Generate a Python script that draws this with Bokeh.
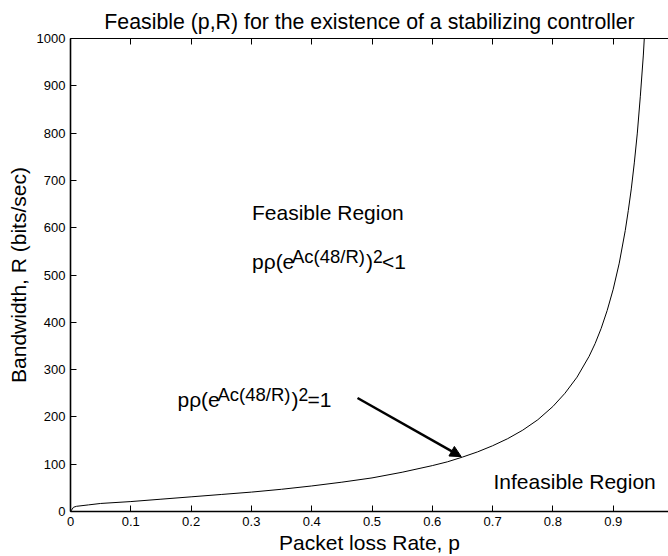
from bokeh.plotting import figure
from bokeh.models import Range1d, LinearAxis, FixedTicker, Label, Arrow, NormalHead
from bokeh.embed import file_html
from bokeh.resources import INLINE

FONT = "Liberation Sans"

# Boundary curve p*rho(e^{Ac(48/R)})^2 = 1 : packet loss rate vs bandwidth
loss_rate = [0.0, 0.005, 0.01, 0.03, 0.05, 0.10, 0.15, 0.20, 0.25, 0.30, 0.35,
             0.40, 0.45, 0.50, 0.55, 0.60, 0.625, 0.65, 0.675, 0.70, 0.725,
             0.75, 0.775, 0.80, 0.82, 0.84, 0.86, 0.87, 0.88, 0.89, 0.90,
             0.91, 0.92, 0.925, 0.93, 0.935, 0.94, 0.945, 0.95, 0.955]
bandwidth = [0, 9, 11, 14, 17, 21, 26, 31, 36, 41, 47,
             54, 62, 71, 83, 97, 105, 115, 126, 139, 154,
             172, 194, 222, 250, 284, 328, 355, 387, 425, 470,
             525, 594, 636, 682, 737, 800, 878, 965, 1078]

x_ticks = [0.0, 0.1, 0.2, 0.3, 0.4, 0.5, 0.6, 0.7, 0.8, 0.9]
x_tick_labels = ["0", "0.1", "0.2", "0.3", "0.4", "0.5", "0.6", "0.7", "0.8", "0.9"]
y_ticks = [0, 100, 200, 300, 400, 500, 600, 700, 800, 900, 1000]
y_tick_labels = [str(v) for v in y_ticks]

p = figure(width=668, height=556,
           x_range=Range1d(0, 0.9917), y_range=Range1d(0, 1000),
           output_backend="svg", toolbar_location=None,
           min_border_left=70, min_border_right=0,
           min_border_top=38, min_border_bottom=43)
p.grid.visible = False
p.outline_line_color = None
p.background_fill_color = "white"
p.border_fill_color = "white"

p.title.text = "Feasible (p,R) for the existence of a stabilizing controller"
p.title.align = "center"
p.title.text_font = FONT
p.title.text_font_size = "21.3px"
p.title.text_font_style = "normal"
p.title.text_color = "black"

def style_axis(ax, ticks, labels, width):
    ax.ticker = FixedTicker(ticks=ticks)
    ax.major_label_overrides = {t: s for t, s in zip(ticks, labels)}
    ax.major_tick_in = 6
    ax.major_tick_out = 0
    ax.minor_tick_line_color = None
    ax.axis_line_width = width
    ax.axis_line_color = "black"
    ax.major_tick_line_color = "black"
    ax.major_label_text_font = FONT
    ax.major_label_text_font_size = "13px"
    ax.major_label_text_color = "black"
    ax.axis_label_text_font = FONT
    ax.axis_label_text_font_size = "21px"
    ax.axis_label_text_font_style = "normal"
    ax.axis_label_text_color = "black"

xa = p.xaxis[0]
style_axis(xa, x_ticks, x_tick_labels, 1.6)
xa.axis_label = "Packet loss Rate, p"
xa.major_label_standoff = 5
xa.axis_label_standoff = 2

ya = p.yaxis[0]
style_axis(ya, y_ticks, y_tick_labels, 1.6)
ya.axis_label = "Bandwidth, R (bits/sec)"
ya.major_label_standoff = 5
ya.axis_label_standoff = 4

top = LinearAxis()
style_axis(top, x_ticks, ["" for _ in x_ticks], 1)
top.major_label_text_font_size = "0px"
top.major_label_standoff = 0
p.add_layout(top, "above")

p.line(loss_rate, bandwidth, line_color="black", line_width=1)

def txt(s, x, y, size="21px", dx=0):
    p.add_layout(Label(x=x, y=y, x_offset=dx, text=s, text_font=FONT,
                       text_font_size=size, text_color="black",
                       text_baseline="alphabetic", text_align="left"))

txt("Feasible Region", 0.301, 632)

# p rho(e^{Ac(48/R)})^2 < 1
f1x, f1y = 0.301, 529
txt("p\u03c1(e", f1x, f1y)
txt("Ac(48/R)", f1x, f1y + 11, size="18.5px", dx=40)
txt(")", f1x, f1y, dx=114)
txt("2", f1x, f1y + 11, size="17.5px", dx=121)
txt("<1", f1x, f1y, dx=130)

# p rho(e^{Ac(48/R)})^2 = 1
f2x, f2y = 0.1774, 236
txt("p\u03c1(e", f2x, f2y)
txt("Ac(48/R)", f2x, f2y + 11, size="18.5px", dx=40)
txt(")", f2x, f2y, dx=114)
txt("2", f2x, f2y + 11, size="17.5px", dx=121)
txt("=1", f2x, f2y, dx=130)

txt("Infeasible Region", 0.7015, 63)

p.add_layout(Arrow(x_start=0.476, y_start=240, x_end=0.648, y_end=116,
                   line_width=2.5, line_color="black",
                   end=NormalHead(size=11, fill_color="black",
                                  line_color="black", line_width=1)))

open("out.html", "w").write(file_html(p, INLINE))
